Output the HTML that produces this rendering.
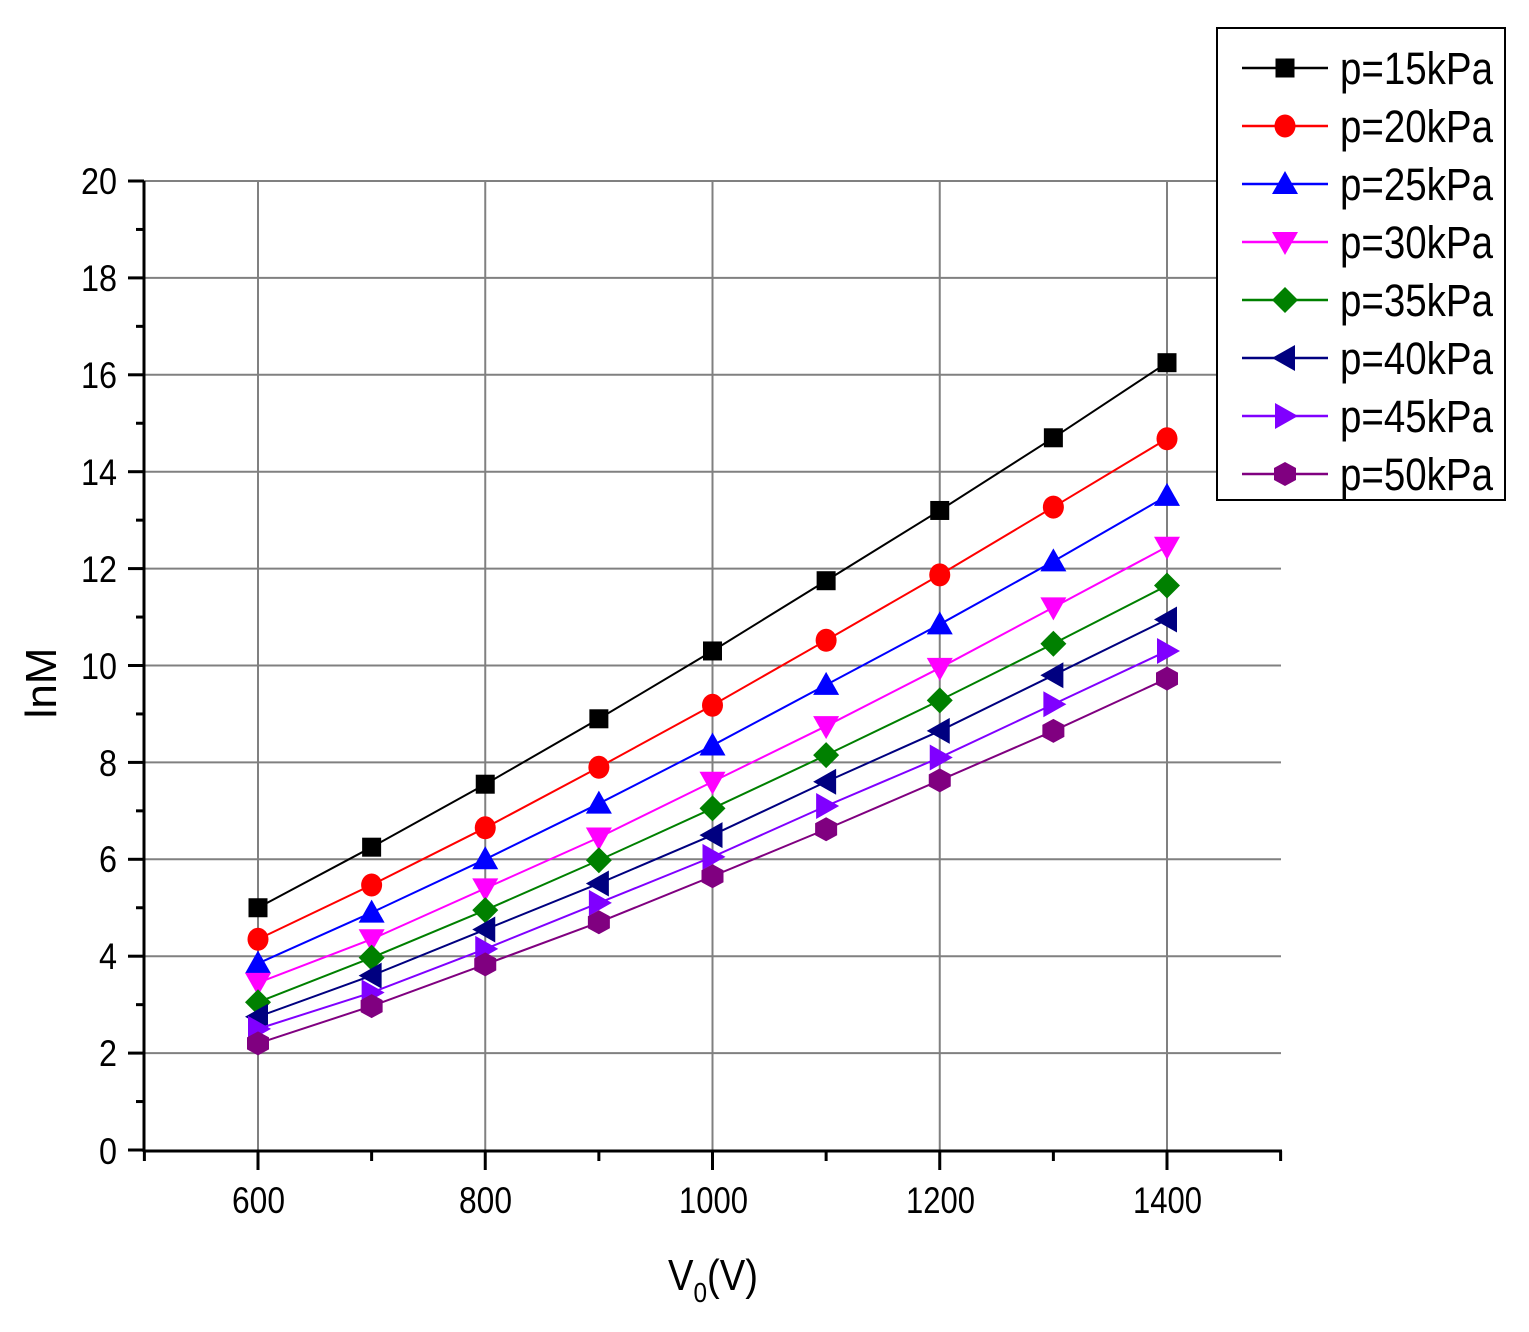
<!DOCTYPE html>
<html><head><meta charset="utf-8"><style>html,body{margin:0;padding:0;background:#fff}svg{display:block}</style></head>
<body>
<svg id="s" width="1529" height="1332" xmlns="http://www.w3.org/2000/svg" font-family="Liberation Sans, Arial, sans-serif">
<g id="grid" stroke="#808080" stroke-width="2"></g>
<g id="axes" stroke="#000"></g>
<g id="series"></g>
<g font-size="37" fill="#000" text-anchor="end">
<text x="117" y="1164" textLength="18" lengthAdjust="spacingAndGlyphs">0</text>
<text x="117" y="1066" textLength="18" lengthAdjust="spacingAndGlyphs">2</text>
<text x="117" y="969" textLength="18" lengthAdjust="spacingAndGlyphs">4</text>
<text x="117" y="872" textLength="18" lengthAdjust="spacingAndGlyphs">6</text>
<text x="117" y="776" textLength="18" lengthAdjust="spacingAndGlyphs">8</text>
<text x="117" y="679" textLength="36" lengthAdjust="spacingAndGlyphs">10</text>
<text x="117" y="582" textLength="36" lengthAdjust="spacingAndGlyphs">12</text>
<text x="117" y="485" textLength="36" lengthAdjust="spacingAndGlyphs">14</text>
<text x="117" y="388" textLength="36" lengthAdjust="spacingAndGlyphs">16</text>
<text x="117" y="291" textLength="36" lengthAdjust="spacingAndGlyphs">18</text>
<text x="117" y="194" textLength="36" lengthAdjust="spacingAndGlyphs">20</text>
</g>
<g font-size="37" fill="#000">
<text x="232" y="1213" textLength="53" lengthAdjust="spacingAndGlyphs">600</text>
<text x="459" y="1213" textLength="53" lengthAdjust="spacingAndGlyphs">800</text>
<text x="679" y="1213" textLength="69" lengthAdjust="spacingAndGlyphs">1000</text>
<text x="906" y="1213" textLength="69" lengthAdjust="spacingAndGlyphs">1200</text>
<text x="1133" y="1213" textLength="69" lengthAdjust="spacingAndGlyphs">1400</text>
</g>
<text x="668" y="1290" font-size="44" textLength="90" lengthAdjust="spacingAndGlyphs">V<tspan font-size="28" dy="12">0</tspan><tspan dy="-12">(V)</tspan></text>
<text transform="translate(56,683) rotate(-90)" font-size="44" text-anchor="middle">lnM</text>
<rect x="1217" y="28" width="288" height="472" fill="#fff" stroke="#000" stroke-width="2"/>
<g id="legend"></g>
<g font-size="45" fill="#000">
<text x="1340" y="84" textLength="153" lengthAdjust="spacingAndGlyphs">p=15kPa</text>
<text x="1340" y="142" textLength="153" lengthAdjust="spacingAndGlyphs">p=20kPa</text>
<text x="1340" y="200" textLength="153" lengthAdjust="spacingAndGlyphs">p=25kPa</text>
<text x="1340" y="258" textLength="153" lengthAdjust="spacingAndGlyphs">p=30kPa</text>
<text x="1340" y="316" textLength="153" lengthAdjust="spacingAndGlyphs">p=35kPa</text>
<text x="1340" y="374" textLength="153" lengthAdjust="spacingAndGlyphs">p=40kPa</text>
<text x="1340" y="432" textLength="153" lengthAdjust="spacingAndGlyphs">p=45kPa</text>
<text x="1340" y="490" textLength="153" lengthAdjust="spacingAndGlyphs">p=50kPa</text>
</g>
</svg>
<script>
const NS="http://www.w3.org/2000/svg";
function el(p,t,a){const e=document.createElementNS(NS,t);for(const k in a)e.setAttribute(k,a[k]);p.appendChild(e);return e;}
const X=v=>258+(v-600)*1.13625, Y=v=>1150-v*48.45;
const g=document.getElementById('grid'),ax=document.getElementById('axes');
for(let v=600;v<=1400;v+=200)el(g,'line',{x1:X(v),x2:X(v),y1:181,y2:1150});
for(let v=2;v<=20;v+=2)el(g,'line',{x1:144,x2:1281,y1:Y(v),y2:Y(v)});
el(ax,'line',{x1:144,x2:144,y1:181,y2:1152,'stroke-width':3});
el(ax,'line',{x1:143,x2:1282,y1:1151,y2:1151,'stroke-width':3});
for(let v=0;v<=20;v++){el(ax,'line',{x1:v%2?136:128,x2:144,y1:Y(v),y2:Y(v),'stroke-width':3});}
for(let v=500;v<=1500;v+=100){el(ax,'line',{x1:X(v),x2:X(v),y1:1151,y2:(v%200==0)?1170:1161,'stroke-width':3});}
const S=[
["#000","sq",[5.0,6.25,7.55,8.9,10.3,11.75,13.2,14.7,16.25]],
["#f00","ci",[4.35,5.47,6.65,7.9,9.18,10.52,11.87,13.27,14.68]],
["#00f","tu",[3.85,4.9,6.0,7.15,8.35,9.6,10.85,12.15,13.5]],
["#f0f","td",[3.45,4.35,5.4,6.45,7.6,8.75,9.95,11.2,12.45]],
["#008000","di",[3.05,3.97,4.95,5.98,7.05,8.15,9.28,10.45,11.65]],
["#000080","tl",[2.75,3.6,4.55,5.5,6.5,7.6,8.65,9.8,10.95]],
["#8000ff","tr",[2.5,3.25,4.15,5.1,6.05,7.1,8.1,9.2,10.3]],
["#800080","hx",[2.2,2.97,3.83,4.7,5.65,6.62,7.63,8.65,9.73]]];
function mk(p,t,x,y,c){let pts;
 if(t=="sq")return el(p,'rect',{x:x-9.5,y:y-9.5,width:19,height:19,fill:c});
 if(t=="ci")return el(p,'ellipse',{cx:x,cy:y,rx:10.5,ry:11.5,fill:c});
 if(t=="tu")pts=[[x,y-13],[x+13,y+10],[x-13,y+10]];
 if(t=="td")pts=[[x,y+13],[x+13,y-10],[x-13,y-10]];
 if(t=="tl")pts=[[x-13,y],[x+10,y-13],[x+10,y+13]];
 if(t=="tr")pts=[[x+13,y],[x-10,y-13],[x-10,y+13]];
 if(t=="di")pts=[[x,y-13],[x+13,y],[x,y+13],[x-13,y]];
 if(t=="hx")pts=[[x,y-12],[x+11,y-6],[x+11,y+6],[x,y+12],[x-11,y+6],[x-11,y-6]];
 return el(p,'polygon',{points:pts.map(q=>q.join(',')).join(' '),fill:c});}
const sg=document.getElementById('series'),lg=document.getElementById('legend');
S.forEach((s,i)=>{const pts=s[2].map((v,j)=>[X(600+100*j),Y(v)]);
 el(sg,'polyline',{points:pts.map(q=>q.join(',')).join(' '),fill:'none',stroke:s[0],'stroke-width':2});
 pts.forEach(q=>mk(sg,s[1],q[0],q[1],s[0]));
 const ly=68+58*i;el(lg,'line',{x1:1242,x2:1328,y1:ly,y2:ly,stroke:s[0],'stroke-width':2.5});mk(lg,s[1],1285,ly,s[0]);});
</script>
</body></html>
